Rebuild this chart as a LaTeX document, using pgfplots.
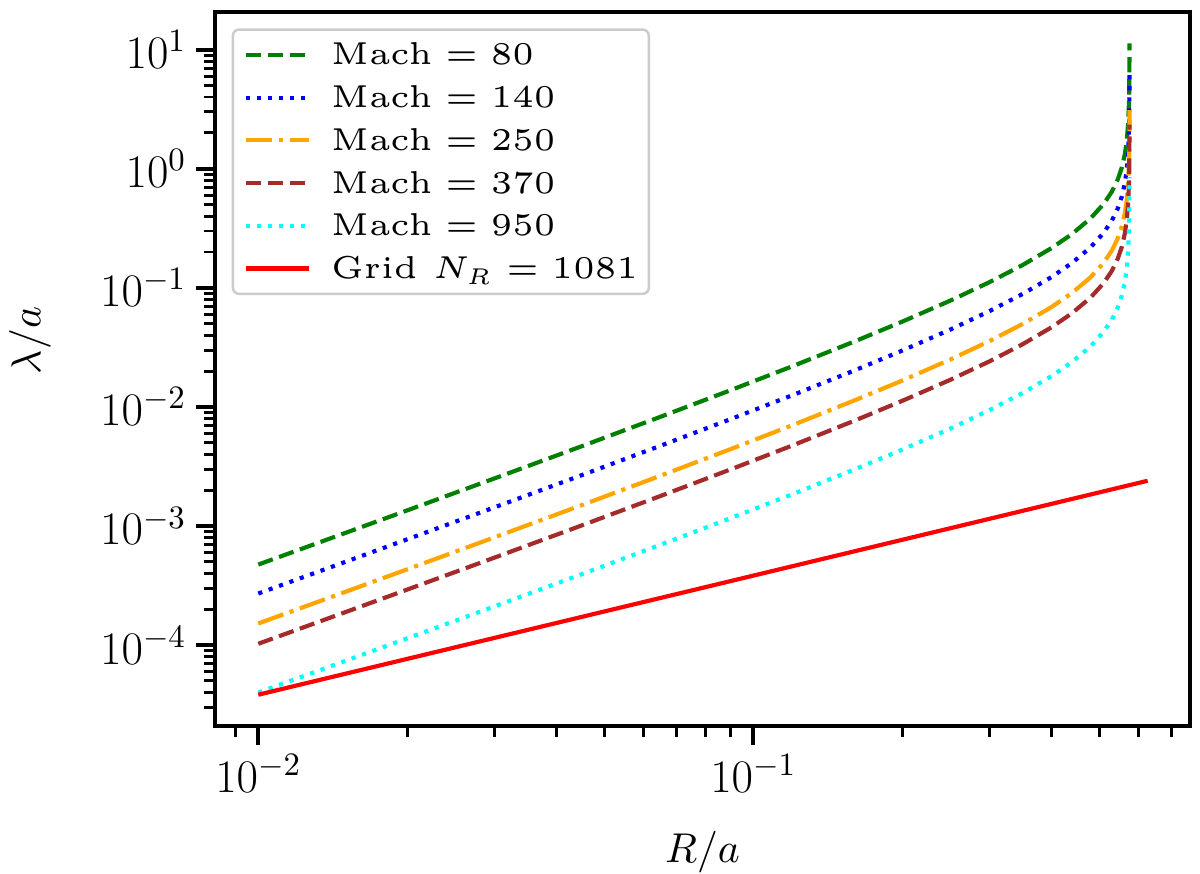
\RequirePackage{fix-cm}
\documentclass[border=0pt]{standalone}
\usepackage{graphicx}
\usepackage{pgfplots}
\usepackage{pgfplotstable}
\pgfplotsset{compat=1.18}
\DeclareMathSizes{5}{5}{3.6}{2.8}

\definecolor{mplgreen}{HTML}{008000}
\definecolor{mplblue}{HTML}{0000FF}
\definecolor{mplorange}{HTML}{FFA500}
\definecolor{mplbrown}{HTML}{A52A2A}
\definecolor{mplcyan}{HTML}{00FFFF}
\definecolor{mplred}{HTML}{FF0000}

\newcommand{\leg}[1]{\scalebox{1.52}{\fontsize{5}{6}\selectfont #1}}

% lambda/a against R/a, one column per Mach number
\pgfplotstableread{
R        m80        m140       m250       m370       m950
0.01     4.7413e-4  2.7093e-4  1.5172e-4  1.02515e-4 3.9927e-5
0.015    8.749e-4   4.9994e-4  2.7997e-4  1.89168e-4 7.3676e-5
0.02     1.3530e-3  7.7314e-4  4.3296e-4  2.92541e-4 1.13937e-4
0.03     2.5084e-3  1.43337e-3 8.0269e-4  5.42357e-4 2.11234e-4
0.045    4.6728e-3  2.67017e-3 1.49530e-3 1.01033e-3 3.93499e-4
0.065    8.2693e-3  4.72531e-3 2.64618e-3 1.78796e-3 6.96362e-4
0.09     1.38151e-2 7.89434e-3 4.42083e-3 2.98705e-3 1.16338e-3
0.12     2.19582e-2 1.25475e-2 7.02662e-3 4.74772e-3 1.84911e-3
0.16     3.53950e-2 2.02257e-2 1.13264e-2 7.65297e-3 2.98063e-3
0.2      5.20309e-2 2.97319e-2 1.66499e-2 1.12499e-2 4.38155e-3
0.25     7.80929e-2 4.46245e-2 2.49897e-2 1.68850e-2 6.57624e-3
0.3      0.111567   6.37526e-2 3.57014e-2 2.41226e-2 9.39512e-3
0.35     0.155366   8.87806e-2 4.97171e-2 3.35926e-2 1.30834e-2
0.4      0.215101   0.122915   6.88323e-2 4.65083e-2 1.81138e-2
0.44     0.282305   0.161317   9.03376e-2 6.10389e-2 2.37731e-2
0.48     0.382857   0.218775   0.122514   8.27799e-2 3.22406e-2
0.51     0.505701   0.288972   0.161824   0.109341   4.25854e-2
0.53     0.641719   0.366697   0.205350   0.138750   5.40395e-2
0.545    0.815126   0.465786   0.260840   0.176243   6.86422e-2
0.555    1.017752   0.581573   0.325681   0.220055   8.57054e-2
0.563    1.321612   0.755207   0.422916   0.285754   0.111294
0.568    1.707219   0.975554   0.546310   0.369129   0.143766
0.572    2.439911   1.394235   0.780772   0.527548   0.205466
0.5745   4.010505   2.291717   1.283362   0.867136   0.337727
0.5755   11.3       6.4        3.1        2.35       0.85
}\machdata

\begin{document}
\begin{tikzpicture}
\begin{axis}[
  name=ax,
  scale only axis, width=234pt, height=171.36pt,
  xmode=log, ymode=log,
  xmin=0.008176, xmax=0.7625,
  ymin=2.09e-5, ymax=20.7,
  axis line style={line width=1pt},
  tick align=outside, tick pos=left,
  major tick length=4.6pt, minor tick length=2.6pt,
  every major tick/.append style={line width=1pt, black},
  every minor tick/.append style={line width=0.7pt, black},
  tick label style={font=\fontsize{17}{20}\selectfont, scale=0.659},
  label style={font=\fontsize{10}{12}\selectfont},
  xlabel={$R/a$}, ylabel={$\lambda/a$},
  xlabel style={at={(axis description cs:0.5,-0.1905)}, anchor=base},
  ylabel style={at={(axis description cs:-0.1897,0.54)}, anchor=center},
  legend style={
    at={(axis description cs:0,1)}, anchor=north west,
    xshift=4pt, yshift=-3.9pt,
    draw=black!20, line width=0.6pt, fill=white,
    rounded corners=1.5pt,
    inner xsep=2.6pt, inner ysep=2.9pt,
    row sep=3.85pt,
    nodes={inner sep=0pt, text height=5.6pt, text depth=0.8pt},
    /tikz/every odd column/.append style={column sep=4.8pt},
  },
  legend cell align=left,
  legend image code/.code={\draw[#1, line width=1pt] (0pt,0pt) -- (15.2pt,0pt);},
]
\addplot[mplgreen, line width=1pt, dash pattern=on 3.7pt off 1.6pt] table[x=R, y=m80] {\machdata};
\addlegendentry{\leg{$\mathrm{Mach} = 80$}}
\addplot[mplblue, line width=1pt, dash pattern=on 1pt off 1.65pt] table[x=R, y=m140] {\machdata};
\addlegendentry{\leg{$\mathrm{Mach} = 140$}}
\addplot[mplorange, line width=1pt, dash pattern=on 6.4pt off 1.6pt on 1pt off 1.6pt] table[x=R, y=m250] {\machdata};
\addlegendentry{\leg{$\mathrm{Mach} = 250$}}
\addplot[mplbrown, line width=1pt, dash pattern=on 3.7pt off 1.6pt] table[x=R, y=m370] {\machdata};
\addlegendentry{\leg{$\mathrm{Mach} = 370$}}
\addplot[mplcyan, line width=1pt, dash pattern=on 1pt off 1.65pt] table[x=R, y=m950] {\machdata};
\addlegendentry{\leg{$\mathrm{Mach} = 950$}}
\addplot[mplred, line width=1pt] coordinates {(0.01,3.83e-5) (0.6261,2.398e-3)};
\addlegendentry{\leg{Grid $N_R = 1081$}}
\end{axis}
\pgfresetboundingbox
\path[use as bounding box] ([shift={(-51.6pt,-35.28pt)}]ax.south west) rectangle ([shift={(2.4pt,2.88pt)}]ax.north east);
\end{tikzpicture}
\end{document}
